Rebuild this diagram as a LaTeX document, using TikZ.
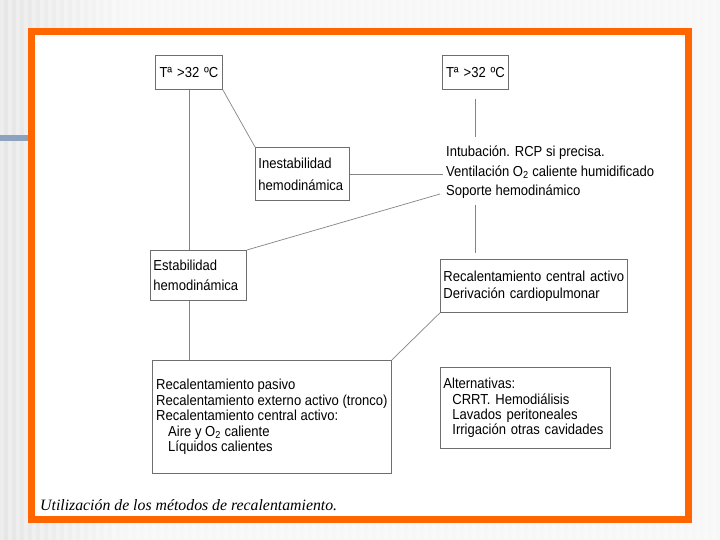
\documentclass[tikz,border=0pt]{standalone}
\usepackage{fontspec}
\setmainfont{Liberation Sans}[FakeStretch=0.9]
\newfontfamily\captionfont{Liberation Serif}
\usetikzlibrary{positioning}
\definecolor{frameorange}{RGB}{255,102,0}
\definecolor{barblue}{RGB}{140,162,190}
\definecolor{boxgray}{RGB}{110,110,110}

\begin{document}
\begin{tikzpicture}[
    x=1pt, y=-1pt,
    box/.style={draw=boxgray, line width=0.8pt, anchor=north west, align=left,
        inner xsep=3pt, inner ysep=0pt, font=\fontsize{14.5}{17}\selectfont},
    link/.style={draw=boxgray!85, line width=0.7pt}
]
\useasboundingbox (0,0) rectangle (720,540);

\fill[gray!6] (0,0) rectangle (720,540);
\shade[left color=gray!20, right color=gray!6] (0,0) rectangle (130,540);
\foreach \i in {0,...,89}
    \fill[white, opacity=0.3] (\i*8,0) rectangle ++(4,540);
\fill[barblue] (0,135) rectangle (28,141);
\filldraw[fill=white, draw=frameorange, line width=7pt] (31.5,31.5) rectangle (688.5,519.5);

\node[box, align=center, text width=61pt, minimum height=34pt] (temp1) at (155,55) {Tª >32 ºC};
\node[box, align=center, text width=60pt, minimum height=34pt] (temp2) at (442,55) {Tª >32 ºC};
\node[box, text width=88pt, minimum height=53pt,
      font=\fontsize{14.5}{22}\selectfont] (inest) at (255,147) {Inestabilidad\\hemodinámica};
\node[anchor=west, align=left, inner sep=3pt,
      font=\fontsize{14.5}{19.5}\selectfont] (tratam) at (443,172.5)
    {Intubación. RCP si precisa.\\Ventilación O\textsubscript{2} caliente humidificado\\Soporte hemodinámico};
\node[box, text width=90pt, minimum height=50pt,
      font=\fontsize{14.5}{20}\selectfont] (estab) at (150,250) {Estabilidad\\hemodinámica};
\node[box, text width=181pt, minimum height=53pt] (rcentral) at (440,259)
    {Recalentamiento central activo\\Derivación cardiopulmonar};
\node[box, minimum width=239pt, minimum height=113pt,
      font=\fontsize{14.5}{15.5}\selectfont] (pasivo) at (152,360)
    {Recalentamiento pasivo\\Recalentamiento externo activo (tronco)\\Recalentamiento central activo:\\
     \hspace*{12pt}Aire y O\textsubscript{2} caliente\\\hspace*{12pt}Líquidos calientes};
\node[box, text width=164pt, minimum height=81pt,
      font=\fontsize{14.5}{15.3}\selectfont] (altern) at (440,367)
    {Alternativas:\\\hspace*{9pt}CRRT. Hemodiálisis\\\hspace*{9pt}Lavados peritoneales\\\hspace*{9pt}Irrigación otras cavidades};
\coordinate (soporte) at (440,194);

\draw[link] (temp1.south) -- (temp1.south |- estab.north);
\draw[link] (temp1.south east) -- (inest.north west);
\draw[link] (inest.east) -- (inest.east -| tratam.west);
\draw[link] (estab.north east) -- (soporte);
\draw[link] ([yshift=-9pt]temp2.south) -- ([yshift=6pt]temp2.south |- tratam.north);
\draw[link] ([yshift=-3pt]temp2.south |- tratam.south) -- ([yshift=6pt]temp2.south |- rcentral.north);
\draw[link] (temp1.south |- estab.south) -- (temp1.south |- pasivo.north);
\draw[link] (pasivo.north east) -- (rcentral.south west);

\node[anchor=west, inner sep=0pt, font=\captionfont\itshape\fontsize{15.8}{18}\selectfont] (caption) at (40,505)
    {Utilización de los métodos de recalentamiento.};

\end{tikzpicture}
\end{document}
